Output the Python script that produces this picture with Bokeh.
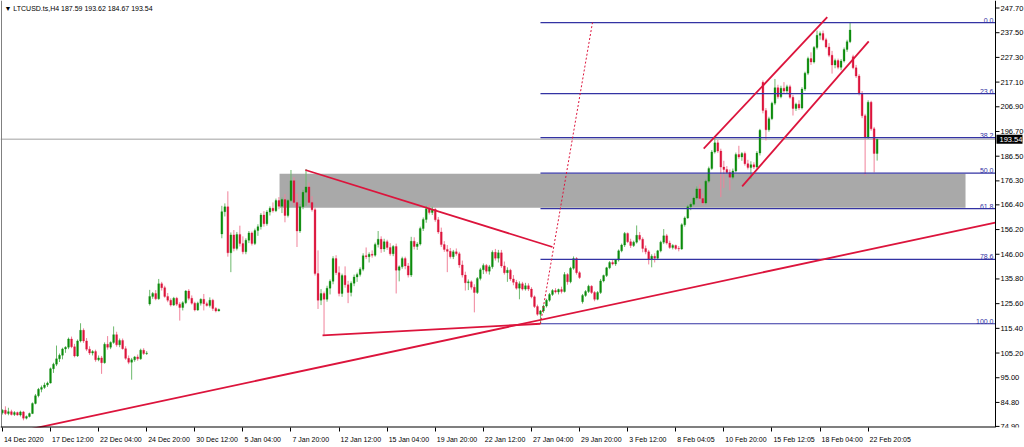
from bokeh.plotting import figure
from bokeh.models import Range1d, FixedTicker, Label, ColumnDataSource
from bokeh.embed import file_html
from bokeh.resources import INLINE
from bokeh.core.properties import value

FONT = "Liberation Sans"

opens = [
    80.5, 81.6, 80.2, 81.0, 79.8, 80.6, 79.6, 80.9, 78.3, 79.0,
    80.2, 84.4, 87.6, 90.2, 91.0, 92.0, 92.8, 98.7, 100.6, 102.8,
    104.3, 106.9, 107.6, 111.0, 107.8, 104.0, 110.2, 114.6, 110.2, 106.8,
    105.2, 105.8, 102.4, 103.2, 101.2, 108.8, 107.6, 109.6, 112.8, 108.6,
    110.4, 107.0, 103.0, 101.4, 102.4, 103.6, 102.8, 106.4, 105.0, 125.5,
    128.6, 129.8, 127.6, 133.8, 132.2, 128.6, 127.0, 125.0, 127.8, 125.4,
    124.0, 126.0, 130.8, 127.8, 125.8, 123.0, 125.8, 127.4, 125.6, 124.8,
    127.0, 123.6, 122.6, 154.4, 163.6, 165.6, 146.6, 154.0, 148.4, 154.2,
    150.4, 147.0, 151.8, 154.8, 150.4, 155.8, 157.4, 162.2, 158.6, 163.4,
    165.0, 164.0, 168.2, 165.8, 168.6, 162.0, 168.2, 176.4, 167.4, 155.6,
    165.6, 171.6, 173.8, 167.4, 164.4, 138.0, 127.0, 129.8, 127.4, 132.0,
    134.8, 144.2, 138.4, 129.8, 137.2, 133.4, 130.2, 134.0, 136.6, 137.6,
    139.8, 145.4, 145.0, 146.0, 145.6, 150.0, 152.2, 148.2, 151.2, 148.8,
    146.2, 149.2, 139.4, 140.8, 144.2, 141.2, 137.4, 151.4, 149.2, 150.2,
    156.6, 160.4, 164.8, 163.2, 164.6, 160.2, 155.2, 150.0, 148.0, 147.2,
    145.0, 147.0, 146.2, 141.6, 137.4, 134.2, 134.6, 132.4, 130.2, 136.0,
    139.6, 141.4, 139.0, 140.8, 146.8, 144.4, 146.6, 141.2, 138.4, 139.4,
    135.8, 134.4, 132.0, 133.8, 131.6, 133.0, 131.6, 128.4, 124.4, 121.2,
    122.6, 124.6, 127.0, 129.4, 131.0, 130.4, 131.4, 130.6, 137.6, 134.6,
    140.2, 144.2, 138.4, 126.4, 129.0, 130.6, 132.8, 130.2, 127.4, 130.2,
    135.0, 137.2, 140.4, 142.6, 142.0, 143.6, 147.4, 149.8, 154.6, 151.2,
    149.6, 151.0, 153.8, 152.2, 148.4, 147.0, 143.8, 145.2, 144.4, 147.4,
    151.0, 153.6, 150.6, 148.8, 149.6, 148.4, 148.2, 158.2, 161.0, 165.6,
    166.6, 169.2, 173.0, 169.0, 167.2, 176.2, 181.4, 188.2, 192.0, 188.6,
    182.0, 181.0, 179.8, 177.8, 180.4, 187.2, 186.2, 187.6, 183.4, 181.8,
    183.0, 182.0, 187.8, 217.0, 205.4, 197.4, 202.0, 208.4, 214.8, 211.0,
    214.6, 213.4, 215.2, 210.8, 206.2, 208.0, 206.4, 214.2, 220.8, 226.8,
    225.4, 231.4, 236.4, 237.2, 234.6, 231.6, 228.2, 224.2, 226.0, 223.2,
    225.8, 230.6, 233.8, 227.6, 223.0, 219.6, 212.4, 203.2, 194.4, 208.8,
    197.8, 187.59,
]
highs = [
    82.0, 83.2, 82.6, 81.8, 81.2, 81.0, 81.4, 81.3, 79.4, 80.6,
    84.8, 88.3, 90.8, 91.8, 93.0, 93.4, 99.2, 101.2, 108.3, 105.0,
    107.4, 108.0, 111.6, 112.0, 109.0, 110.8, 117.5, 115.4, 111.4, 108.0,
    106.4, 106.6, 104.2, 104.0, 109.6, 112.2, 110.0, 116.2, 114.0, 111.2,
    111.2, 108.0, 104.2, 103.2, 104.0, 104.6, 107.0, 107.2, 106.0, 131.3,
    130.4, 131.2, 135.8, 134.6, 133.0, 130.0, 127.8, 128.4, 128.4, 126.2,
    126.6, 131.2, 131.6, 129.0, 126.4, 126.4, 127.8, 129.6, 126.4, 128.2,
    127.6, 124.2, 123.6, 166.0, 167.0, 172.0, 155.0, 156.0, 155.2, 157.8,
    153.4, 152.6, 155.6, 155.4, 156.6, 158.4, 163.0, 163.8, 164.2, 165.8,
    167.4, 169.0, 169.6, 169.4, 170.8, 168.8, 180.8, 177.8, 171.0, 166.8,
    172.6, 181.2, 175.6, 170.0, 165.2, 147.6, 131.6, 130.6, 133.0, 135.6,
    145.2, 145.6, 141.0, 138.0, 141.0, 135.0, 134.8, 137.6, 138.4, 140.6,
    146.4, 148.8, 146.8, 147.6, 150.8, 155.6, 153.4, 152.4, 152.0, 150.6,
    149.8, 150.4, 141.4, 145.0, 145.0, 142.4, 153.2, 153.0, 151.0, 157.4,
    161.2, 166.0, 166.4, 165.6, 165.0, 161.4, 157.0, 151.4, 149.8, 148.6,
    147.8, 148.4, 147.0, 143.4, 138.8, 135.6, 135.2, 133.6, 136.6, 140.4,
    142.2, 142.0, 141.6, 147.6, 148.2, 147.8, 147.8, 143.0, 140.6, 140.0,
    137.4, 135.4, 134.8, 134.6, 134.2, 134.0, 132.4, 129.0, 125.2, 123.0,
    125.2, 127.6, 130.0, 131.6, 132.0, 131.8, 132.6, 138.6, 138.2, 140.8,
    145.1, 144.8, 139.0, 129.6, 131.2, 133.4, 133.2, 130.8, 130.8, 135.8,
    137.6, 140.8, 143.2, 143.6, 144.0, 148.0, 150.4, 155.2, 155.0, 152.4,
    151.6, 157.9, 155.2, 153.0, 149.6, 147.8, 146.0, 146.4, 147.8, 151.6,
    156.4, 154.4, 151.6, 150.2, 150.0, 149.4, 158.8, 161.6, 166.4, 167.4,
    169.8, 174.0, 174.8, 171.0, 176.8, 182.2, 189.0, 194.3, 193.2, 189.6,
    184.6, 182.4, 181.0, 181.4, 188.0, 190.8, 188.2, 188.4, 185.0, 184.4,
    184.0, 188.6, 197.8, 217.8, 206.4, 202.8, 209.0, 218.4, 216.0, 215.6,
    217.1, 216.0, 216.0, 211.8, 208.6, 209.6, 215.0, 221.4, 227.6, 229.4,
    232.0, 238.4, 238.0, 238.4, 235.4, 233.2, 230.0, 226.8, 226.8, 226.6,
    231.4, 234.6, 241.9, 228.4, 224.2, 220.4, 213.4, 204.0, 209.6, 209.4,
    198.6, 193.62,
]
lows = [
    79.8, 79.6, 79.5, 79.4, 79.2, 79.3, 79.0, 77.4, 77.8, 78.6,
    80.0, 84.0, 86.9, 89.0, 90.4, 91.2, 92.6, 97.0, 99.8, 101.5,
    102.6, 105.3, 106.8, 107.2, 103.4, 103.6, 109.6, 109.4, 106.0, 104.4,
    104.2, 101.6, 101.8, 96.6, 100.8, 106.6, 106.8, 109.0, 107.8, 107.6,
    106.6, 102.4, 100.6, 94.2, 101.6, 102.0, 102.4, 104.4, 104.4, 124.8,
    127.6, 127.0, 127.2, 131.0, 128.0, 126.2, 124.4, 124.6, 124.6, 118.6,
    122.8, 125.4, 127.0, 125.2, 122.4, 122.6, 124.8, 122.8, 124.4, 124.0,
    122.6, 122.0, 122.4, 152.6, 161.6, 145.0, 138.6, 147.2, 147.6, 149.2,
    146.0, 146.0, 150.6, 149.6, 149.8, 153.6, 156.2, 157.4, 157.8, 162.0,
    163.2, 163.4, 164.6, 163.0, 159.2, 161.2, 167.6, 166.0, 149.0, 154.8,
    164.6, 166.0, 166.4, 163.6, 137.2, 123.4, 125.0, 112.6, 126.4, 129.4,
    133.6, 137.4, 128.6, 128.4, 132.2, 125.8, 128.6, 132.8, 134.6, 136.8,
    139.0, 144.0, 142.6, 144.6, 145.0, 148.8, 146.6, 147.0, 147.8, 145.4,
    145.2, 129.8, 134.8, 140.0, 139.8, 136.4, 136.6, 148.0, 147.8, 149.6,
    155.6, 159.0, 162.4, 162.2, 159.4, 154.4, 149.0, 147.0, 138.6, 144.2,
    144.0, 145.4, 140.4, 136.4, 131.0, 131.2, 131.4, 122.0, 129.6, 135.2,
    137.8, 138.0, 137.6, 140.0, 143.4, 142.6, 140.4, 137.6, 134.6, 135.0,
    133.2, 131.4, 127.4, 131.0, 131.0, 130.8, 127.8, 123.8, 120.6, 117.3,
    121.8, 124.0, 126.4, 128.8, 129.8, 129.4, 129.8, 130.2, 133.4, 134.0,
    139.6, 137.6, 135.8, 125.6, 128.4, 130.0, 129.6, 126.6, 127.0, 129.6,
    134.4, 136.6, 139.8, 141.4, 141.2, 143.0, 146.8, 149.0, 150.6, 148.6,
    149.0, 150.4, 151.6, 146.8, 146.0, 141.8, 140.6, 142.6, 143.6, 146.8,
    150.2, 150.0, 148.2, 148.0, 147.8, 147.2, 147.8, 157.4, 160.6, 164.2,
    166.0, 168.6, 168.2, 166.2, 166.6, 175.4, 180.8, 187.6, 187.8, 169.6,
    173.4, 179.2, 172.4, 177.0, 179.8, 185.4, 184.6, 182.6, 181.0, 177.1,
    181.2, 181.4, 186.8, 204.2, 193.0, 196.6, 201.4, 207.6, 210.2, 210.4,
    212.6, 212.4, 210.2, 203.3, 205.2, 205.6, 205.8, 213.4, 220.0, 224.2,
    224.8, 230.6, 234.6, 234.0, 231.0, 227.4, 220.6, 222.8, 222.4, 222.0,
    225.2, 229.6, 233.2, 222.4, 218.8, 211.6, 202.2, 178.6, 193.6, 197.0,
    179.8, 184.67,
]
closes = [
    81.6, 80.2, 81.0, 79.8, 80.6, 79.6, 80.9, 78.3, 79.0, 80.2,
    84.4, 87.6, 90.2, 91.0, 92.0, 92.8, 98.7, 100.6, 102.8, 104.3,
    106.9, 107.6, 111.0, 107.8, 104.0, 110.2, 114.6, 110.2, 106.8, 105.2,
    105.8, 102.4, 103.2, 101.2, 108.8, 107.6, 109.6, 112.8, 108.6, 110.4,
    107.0, 103.0, 101.4, 102.4, 103.6, 102.8, 106.4, 105.0, 105.2, 128.6,
    129.8, 127.6, 133.8, 132.2, 128.6, 127.0, 125.0, 127.8, 125.4, 124.0,
    126.0, 130.8, 127.8, 125.8, 123.0, 125.8, 127.4, 125.6, 124.8, 127.0,
    123.6, 122.6, 123.2, 163.6, 165.6, 146.6, 154.0, 148.4, 154.2, 150.4,
    147.0, 151.8, 154.8, 150.4, 155.8, 157.4, 162.2, 158.6, 163.4, 165.0,
    164.0, 168.2, 165.8, 168.6, 162.0, 168.2, 176.4, 167.4, 155.6, 165.6,
    171.6, 173.8, 167.4, 164.4, 138.0, 127.0, 129.8, 127.4, 132.0, 134.8,
    144.2, 138.4, 129.8, 137.2, 133.4, 130.2, 134.0, 136.6, 137.6, 139.8,
    145.4, 145.0, 146.0, 145.6, 150.0, 152.2, 148.2, 151.2, 148.8, 146.2,
    149.2, 139.4, 140.8, 144.2, 141.2, 137.4, 151.4, 149.2, 150.2, 156.6,
    160.4, 164.8, 163.2, 164.6, 160.2, 155.2, 150.0, 148.0, 147.2, 145.0,
    147.0, 146.2, 141.6, 137.4, 134.2, 134.6, 132.4, 130.2, 136.0, 139.6,
    141.4, 139.0, 140.8, 146.8, 144.4, 146.6, 141.2, 138.4, 139.4, 135.8,
    134.4, 132.0, 133.8, 131.6, 133.0, 131.6, 128.4, 124.4, 121.2, 122.6,
    124.6, 127.0, 129.4, 131.0, 130.4, 131.4, 130.6, 137.6, 134.6, 140.2,
    144.2, 138.4, 136.4, 129.0, 130.6, 132.8, 130.2, 127.4, 130.2, 135.0,
    137.2, 140.4, 142.6, 142.0, 143.6, 147.4, 149.8, 154.6, 151.2, 149.6,
    151.0, 153.8, 152.2, 148.4, 147.0, 143.8, 145.2, 144.4, 147.4, 151.0,
    153.6, 150.6, 148.8, 149.6, 148.4, 148.2, 158.2, 161.0, 165.6, 166.6,
    169.2, 173.0, 169.0, 167.2, 176.2, 181.4, 188.2, 192.0, 188.6, 182.0,
    181.0, 179.8, 177.8, 180.4, 187.2, 186.2, 187.6, 183.4, 181.8, 183.0,
    182.0, 187.8, 197.2, 205.4, 197.4, 202.0, 208.4, 214.8, 211.0, 214.6,
    213.4, 215.2, 210.8, 206.2, 208.0, 206.4, 214.2, 220.8, 226.8, 225.4,
    231.4, 236.4, 237.2, 234.6, 231.6, 228.2, 224.2, 226.0, 223.2, 225.8,
    230.6, 233.8, 238.6, 223.0, 219.6, 212.4, 203.2, 194.4, 208.8, 197.8,
    187.6, 193.54,
]

# x-axis labels (every 16 H4 bars)
xtick_bars = [0, 16, 32, 48, 64, 80, 96, 112, 128, 144, 160, 176, 192, 208, 224, 240, 256, 272, 288]
xtick_labels = ["14 Dec 2020", "17 Dec 12:00", "22 Dec 04:00", "24 Dec 20:00", "30 Dec 12:00",
                "5 Jan 04:00", "7 Jan 20:00", "12 Jan 12:00", "15 Jan 04:00", "19 Jan 20:00",
                "22 Jan 12:00", "27 Jan 04:00", "29 Jan 20:00", "3 Feb 12:00", "8 Feb 04:05",
                "10 Feb 20:00", "15 Feb 12:05", "18 Feb 04:00", "22 Feb 20:05"]
ytick_values = [74.90, 84.80, 95.00, 105.20, 115.40, 125.60, 135.80, 146.00, 156.20, 166.40,
                176.30, 186.50, 196.70, 206.90, 217.10, 227.30, 237.50, 247.70]

# Fibonacci retracement
fib_bar_low, fib_price_low = 179.0, 117.3
fib_bar_high, fib_price_high = 196.3, 241.7
fib_ratios = [0.0, 23.6, 38.2, 50.0, 61.8, 78.6, 100.0]

# drawn objects (bar index, price)
support_line_x = [8.7, 330.3]
support_line_y = [73.6, 159.1]
falling_line_x = [100.8, 183.0]
falling_line_y = [180.8, 149.0]
triangle_base_x = [106.5, 179.0]
triangle_base_y = [112.5, 117.3]
channel_top_x = [233.3, 274.4]
channel_top_y = [189.6, 243.9]
channel_bottom_x = [246.1, 288.2]
channel_bottom_y = [174.0, 233.9]
zone_bars = [92.2, 320.4]
zone_prices = [165.2, 179.2]
bid_price = 193.54

# ---- layout (screen geometry) ----
FW, FH = 1024, 427                # frame: whole width, chart height
PX_BAR = 3.006                    # pixels per bar
PX_PRICE = 1 / 0.413              # pixels per price unit
X0 = -1.9 / PX_BAR
X1 = X0 + FW / PX_BAR
X_END = X0 + 995 / PX_BAR         # price-scale line
Y1 = 250.8
Y0 = Y1 - FH / PX_PRICE

p = figure(frame_width=FW, frame_height=FH, output_backend="svg", toolbar_location=None,
           x_range=Range1d(X0, X1), y_range=Range1d(Y0, Y1),
           y_axis_location=None, min_border_left=0, min_border_top=0,
           min_border_right=0, min_border_bottom=0)
p.grid.visible = False
p.outline_line_color = None
p.background_fill_color = "white"
p.border_fill_color = "white"

# zone + bid line
p.quad(left=[zone_bars[0]], right=[zone_bars[1]], bottom=[zone_prices[0]], top=[zone_prices[1]],
       fill_color="#A9A9A9", line_color=None, level="underlay")
p.segment(x0=[X0], x1=[X_END], y0=[bid_price], y1=[bid_price], line_color="#C0C0C0",
          line_width=1.5, level="underlay")

# candles
idx = list(range(len(closes)))
up = [c >= o for o, c in zip(opens, closes)]
src = ColumnDataSource(dict(
    x=idx, high=highs, low=lows,
    top=[max(o, c) for o, c in zip(opens, closes)],
    bottom=[min(o, c) for o, c in zip(opens, closes)],
    wick=["#6DB96D" if u else "#F0829A" for u in up],
    body=["#0C8C0C" if u else "#DC143C" for u in up],
))
p.segment(x0="x", y0="low", x1="x", y1="high", source=src, line_color="wick", line_width=1)
p.vbar(x="x", width=0.62, top="top", bottom="bottom", source=src,
       fill_color="body", line_color="body", line_width=0.3)

# fibonacci
rng = fib_price_high - fib_price_low
fib_levels = [fib_price_high - r / 100.0 * rng for r in fib_ratios]
FIB = "#3333A3"
n_f = len(fib_levels)
p.segment(x0=[fib_bar_low] * n_f, x1=[X_END] * n_f, y0=fib_levels, y1=fib_levels,
          line_color=FIB, line_width=1.2)
p.text(x=[X_END - 2 / PX_BAR] * n_f, y=fib_levels, text=["%.1f" % r for r in fib_ratios],
       text_align="right", text_baseline="bottom", text_font_size="7px",
       text_color=FIB, text_font=value(FONT))
p.line([fib_bar_low, fib_bar_high], [fib_price_low, fib_price_high],
       line_color="#DC143C", line_dash="2 2", line_width=1)

RED = "#DC143C"
for xs, ys in [(support_line_x, support_line_y), (falling_line_x, falling_line_y),
               (triangle_base_x, triangle_base_y), (channel_top_x, channel_top_y),
               (channel_bottom_x, channel_bottom_y)]:
    p.line(xs, ys, line_color=RED, line_width=1.8)

# frame lines (left, bottom) and price scale line
p.segment(x0=[X0 + 1 / PX_BAR, X0, X_END], x1=[X0 + 1 / PX_BAR, X_END, X_END],
          y0=[Y0, Y0, Y0], y1=[Y1, Y0, Y1],
          line_color=["#808080", "black", "black"], line_width=[1, 2, 1])
tick_len = 4 / PX_BAR
nt = len(ytick_values)
p.segment(x0=[X_END] * nt, x1=[X_END + tick_len] * nt, y0=ytick_values, y1=ytick_values,
          line_color="black", line_width=1)
p.text(x=[X_END + 5 / PX_BAR] * nt, y=ytick_values, text=["%.2f" % v for v in ytick_values],
       text_align="left", text_baseline="middle", text_font_size="7.5px",
       text_color="black", text_font=value(FONT))

# current price tag
tag_h = 9 / PX_PRICE
p.quad(left=[X_END + 1 / PX_BAR], right=[X_END + 27 / PX_BAR],
       bottom=[bid_price - tag_h / 2], top=[bid_price + tag_h / 2],
       fill_color="black", line_color=None)
p.text(x=[X_END + 4 / PX_BAR], y=[bid_price], text=["%.2f" % bid_price],
       text_align="left", text_baseline="middle", text_font_size="7.5px",
       text_color="white", text_font=value(FONT))

# header
p.add_layout(Label(x=X0, y=Y1 - 8 / PX_PRICE, x_offset=4,
                   text="\u25BC LTCUSD.ts,H4  187.59 193.62 184.67 193.54",
                   text_font_size="7px", text_font=FONT, text_baseline="middle", text_color="black"))

# x axis: labels left-aligned at their tick (major ticks carry the labels,
# minor ticks mark the bar positions)
CHAR_W = {" ": 0.278, ":": 0.278, ".": 0.278, "D": 0.722, "J": 0.5, "F": 0.611,
          "e": 0.556, "c": 0.5, "a": 0.556, "n": 0.556, "b": 0.556}
fs_px = 7.0
label_pos = []
for b, s in zip(xtick_bars, xtick_labels):
    w = sum(CHAR_W.get(ch, 0.556) for ch in s) * fs_px
    label_pos.append(round(b + (w / 2 + 1.5) / PX_BAR, 3))

xa = p.xaxis[0]
xa.ticker = FixedTicker(ticks=label_pos, minor_ticks=xtick_bars)
xa.major_label_overrides = {pos: s for pos, s in zip(label_pos, xtick_labels)}
xa.axis_line_color = None
xa.major_tick_line_color = None
xa.major_tick_out = 0
xa.major_tick_in = 0
xa.minor_tick_line_color = "black"
xa.minor_tick_out = 4
xa.minor_tick_in = 0
xa.major_label_standoff = 4
xa.major_label_text_font_size = "7px"
xa.major_label_text_font = FONT
xa.major_label_text_color = "black"

open("out.html", "w").write(file_html(p, INLINE))
